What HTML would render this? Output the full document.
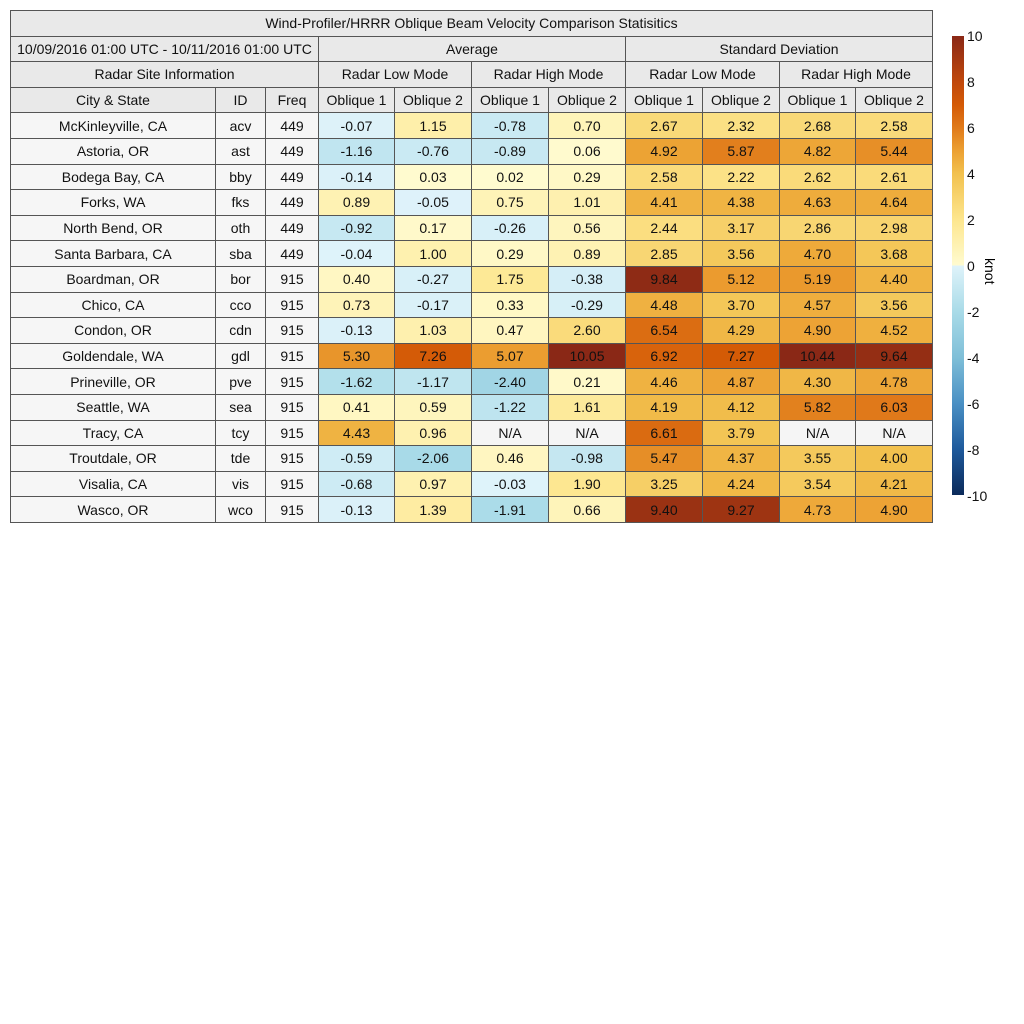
<!DOCTYPE html>
<html><head><style>
body{margin:0;background:#fff;width:1024px;height:1024px;position:relative;font-family:"Liberation Sans",sans-serif;}
table{position:absolute;left:10px;top:10px;border-collapse:collapse;table-layout:fixed;width:922px;font-size:14px;color:#111}
td{border:1px solid #555;text-align:center;padding:0;height:24.6px;overflow:hidden;white-space:nowrap}
.h{background:#e9e9e9}
.s{background:#f6f6f6}
#cb{position:absolute;left:952px;top:36px;width:12px;height:459px;background:linear-gradient(to bottom,#8a2816 0%,#c0480c 10%,#d45a06 15%,#e07a1a 20%,#eca032 25%,#f2c14e 30%,#fde68e 40%,#fffbd0 50%,#dff3fa 50%,#a9dbe8 60%,#7fbfd8 70%,#4a90c4 80%,#1e5a9c 90%,#0b2a5a 100%)}
.t{position:absolute;left:967px;font-size:14px;color:#111}
</style></head><body>
<table id="tb">
<colgroup><col style="width:205px"><col style="width:50px"><col style="width:53px"><col style="width:76px"><col style="width:77px"><col style="width:77px"><col style="width:77px"><col style="width:77px"><col style="width:77px"><col style="width:76px"><col style="width:77px"></colgroup>
<tr><td class="h" colspan="11">Wind-Profiler/HRRR Oblique Beam Velocity Comparison Statisitics</td></tr>
<tr><td class="h" colspan="3">10/09/2016 01:00 UTC - 10/11/2016 01:00 UTC</td><td class="h" colspan="4">Average</td><td class="h" colspan="4">Standard Deviation</td></tr>
<tr><td class="h" colspan="3">Radar Site Information</td><td class="h" colspan="2">Radar Low Mode</td><td class="h" colspan="2">Radar High Mode</td><td class="h" colspan="2">Radar Low Mode</td><td class="h" colspan="2">Radar High Mode</td></tr>
<tr><td class="h">City &amp; State</td><td class="h">ID</td><td class="h">Freq</td><td class="h">Oblique 1</td><td class="h">Oblique 2</td><td class="h">Oblique 1</td><td class="h">Oblique 2</td><td class="h">Oblique 1</td><td class="h">Oblique 2</td><td class="h">Oblique 1</td><td class="h">Oblique 2</td></tr>
</table>
<div id="cb"></div>
<div class="t" style="top:28px">10</div><div class="t" style="top:74px">8</div><div class="t" style="top:120px">6</div><div class="t" style="top:166px">4</div><div class="t" style="top:212px">2</div><div class="t" style="top:258px">0</div><div class="t" style="top:304px">-2</div><div class="t" style="top:350px">-4</div><div class="t" style="top:396px">-6</div><div class="t" style="top:442px">-8</div><div class="t" style="top:488px">-10</div>
<div style="position:absolute;left:975px;top:258px;font-size:14px;transform:rotate(90deg);transform-origin:left top;left:998px">knot</div>
<script>
var D=[
["McKinleyville, CA","acv",449,-0.07,1.15,-0.78,0.70,2.67,2.32,2.68,2.58],
["Astoria, OR","ast",449,-1.16,-0.76,-0.89,0.06,4.92,5.87,4.82,5.44],
["Bodega Bay, CA","bby",449,-0.14,0.03,0.02,0.29,2.58,2.22,2.62,2.61],
["Forks, WA","fks",449,0.89,-0.05,0.75,1.01,4.41,4.38,4.63,4.64],
["North Bend, OR","oth",449,-0.92,0.17,-0.26,0.56,2.44,3.17,2.86,2.98],
["Santa Barbara, CA","sba",449,-0.04,1.00,0.29,0.89,2.85,3.56,4.70,3.68],
["Boardman, OR","bor",915,0.40,-0.27,1.75,-0.38,9.84,5.12,5.19,4.40],
["Chico, CA","cco",915,0.73,-0.17,0.33,-0.29,4.48,3.70,4.57,3.56],
["Condon, OR","cdn",915,-0.13,1.03,0.47,2.60,6.54,4.29,4.90,4.52],
["Goldendale, WA","gdl",915,5.30,7.26,5.07,10.05,6.92,7.27,10.44,9.64],
["Prineville, OR","pve",915,-1.62,-1.17,-2.40,0.21,4.46,4.87,4.30,4.78],
["Seattle, WA","sea",915,0.41,0.59,-1.22,1.61,4.19,4.12,5.82,6.03],
["Tracy, CA","tcy",915,4.43,0.96,null,null,6.61,3.79,null,null],
["Troutdale, OR","tde",915,-0.59,-2.06,0.46,-0.98,5.47,4.37,3.55,4.00],
["Visalia, CA","vis",915,-0.68,0.97,-0.03,1.90,3.25,4.24,3.54,4.21],
["Wasco, OR","wco",915,-0.13,1.39,-1.91,0.66,9.40,9.27,4.73,4.90]];
var P=[[0,[255,251,208]],[2,[253,230,142]],[4,[242,193,78]],[5,[236,160,50]],[6,[224,122,26]],[7.3,[212,90,6]],[8,[192,72,12]],[10,[138,40,22]]];
var N=[[0,[223,243,250]],[2,[169,219,232]],[4,[127,191,216]],[6,[74,144,196]],[8,[30,90,156]],[10,[11,42,90]]];
function col(v){var S=v<0?N:P;var a=Math.min(Math.abs(v),10);for(var i=1;i<S.length;i++){if(a<=S[i][0]){var f=(a-S[i-1][0])/(S[i][0]-S[i-1][0]);var c=S[i-1][1].map(function(x,k){return Math.round(x+(S[i][1][k]-x)*f)});return"rgb("+c+")";}}return"rgb("+S[S.length-1][1]+")";}
var h="";D.forEach(function(r){h+="<tr>";for(var i=0;i<3;i++)h+='<td class="s">'+r[i]+"</td>";for(var i=3;i<11;i++){var v=r[i];h+=v===null?'<td style="background:#f5f5f5">N/A</td>':'<td style="background:'+col(v)+'">'+v.toFixed(2)+"</td>";}h+="</tr>";});
document.getElementById("tb").insertAdjacentHTML("beforeend",h);
</script>
</body></html>
